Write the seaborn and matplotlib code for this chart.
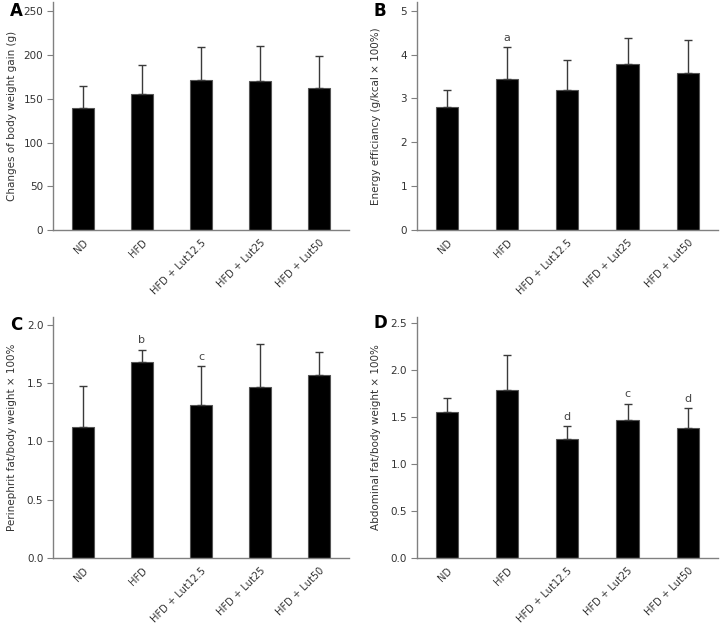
import pandas as pd
import matplotlib
matplotlib.use("Agg")
import matplotlib.pyplot as plt
import seaborn as sns

# groups on the x axis
groups = ["ND", "HFD", "HFD + Lut12.5", "HFD + Lut25", "HFD + Lut50"]

# A: body weight gain
gain_mean = [140, 156, 172, 171, 163]
gain_sd = [25, 33, 37, 40, 36]
gain_sig = ["", "", "", "", ""]

# B: energy efficiency
energy_mean = [2.80, 3.45, 3.18, 3.79, 3.58]
energy_sd = [0.40, 0.72, 0.69, 0.58, 0.76]
energy_sig = ["", "a", "", "", ""]

# C: perinephrit fat
peri_mean = [1.12, 1.68, 1.31, 1.47, 1.57]
peri_sd = [0.36, 0.11, 0.34, 0.37, 0.20]
peri_sig = ["", "b", "c", "", ""]

# D: abdominal fat
abd_mean = [1.55, 1.78, 1.26, 1.47, 1.38]
abd_sd = [0.15, 0.38, 0.14, 0.17, 0.21]
abd_sig = ["", "", "d", "c", "d"]

sns.set_style("white")
plt.rcParams['font.family'] = ['DejaVu Sans']

fig = plt.figure(figsize=(7.2, 6.25), dpi=100)

panels = [
    ("A", gain_mean, gain_sd, gain_sig, "Changes of body weight gain (g)",
     [0.0736, 0.632, 0.411, 0.365], 261, [0, 50, 100, 150, 200, 250], "{:.0f}"),
    ("B", energy_mean, energy_sd, energy_sig, "Energy efficiancy (g/kcal \u00d7 100%)",
     [0.579, 0.632, 0.418, 0.365], 5.2, [0, 1, 2, 3, 4, 5], "{:.0f}"),
    ("C", peri_mean, peri_sd, peri_sig, "Perinephrit fat/body weight \u00d7 100%",
     [0.0736, 0.1077, 0.411, 0.385], 2.07, [0, 0.5, 1.0, 1.5, 2.0], "{:.1f}"),
    ("D", abd_mean, abd_sd, abd_sig, "Abdominal fat/body weight \u00d7 100%",
     [0.579, 0.1077, 0.418, 0.385], 2.56, [0, 0.5, 1.0, 1.5, 2.0, 2.5], "{:.1f}"),
]

txt = "#333333"
spine = "#808080"

for letter, means, sds, sig, ylab, rect, ytop, yticks, fmt in panels:
    ax = fig.add_axes(rect)
    df = pd.DataFrame({"group": groups, "value": means})
    sns.barplot(data=df, x="group", y="value", color="black", width=0.37,
                edgecolor="#555555", linewidth=0.8, errorbar=None, ax=ax)
    ax.errorbar(range(len(groups)), means, yerr=[[0] * len(sds), sds],
                fmt="none", ecolor="#3a3a3a", elinewidth=1, capsize=3, capthick=1)
    for i, s in enumerate(sig):
        if s:
            ax.annotate(s, (i, means[i] + sds[i]), xytext=(0, 3),
                        textcoords="offset points", ha="center", va="bottom",
                        fontsize=8, color="#444444")

    ax.set_xlim(-0.5, 4.5)
    ax.set_ylim(0, ytop)
    ax.set_yticks(yticks)
    ax.set_yticklabels([fmt.format(t) for t in yticks])
    sns.despine(ax=ax)
    for side in ["left", "bottom"]:
        ax.spines[side].set_color(spine)
        ax.spines[side].set_linewidth(1)
    ax.tick_params(axis="y", which="both", left=True, length=4, width=0.8,
                   color=spine, labelsize=7.5, labelcolor=txt, pad=3)
    ax.tick_params(axis="x", bottom=False, labelsize=7.1, labelcolor=txt, pad=2)
    plt.setp(ax.get_xticklabels(), rotation=45, ha="right", rotation_mode="anchor")
    ax.set_xlabel("")
    ax.set_ylabel(ylab, fontsize=7.5, color=txt)
    w = rect[2] * 720
    ax.yaxis.set_label_coords(-36 / w, 0.5)

    ax_x = rect[0] * 720
    top_tick = ax.transData.transform((0, yticks[-1]))[1]
    fig.text((ax_x - 43) / 720, top_tick / 625, letter, fontsize=12,
             fontweight="bold", ha="left", va="center", color="black")

fig.savefig("out.png", dpi=100)
